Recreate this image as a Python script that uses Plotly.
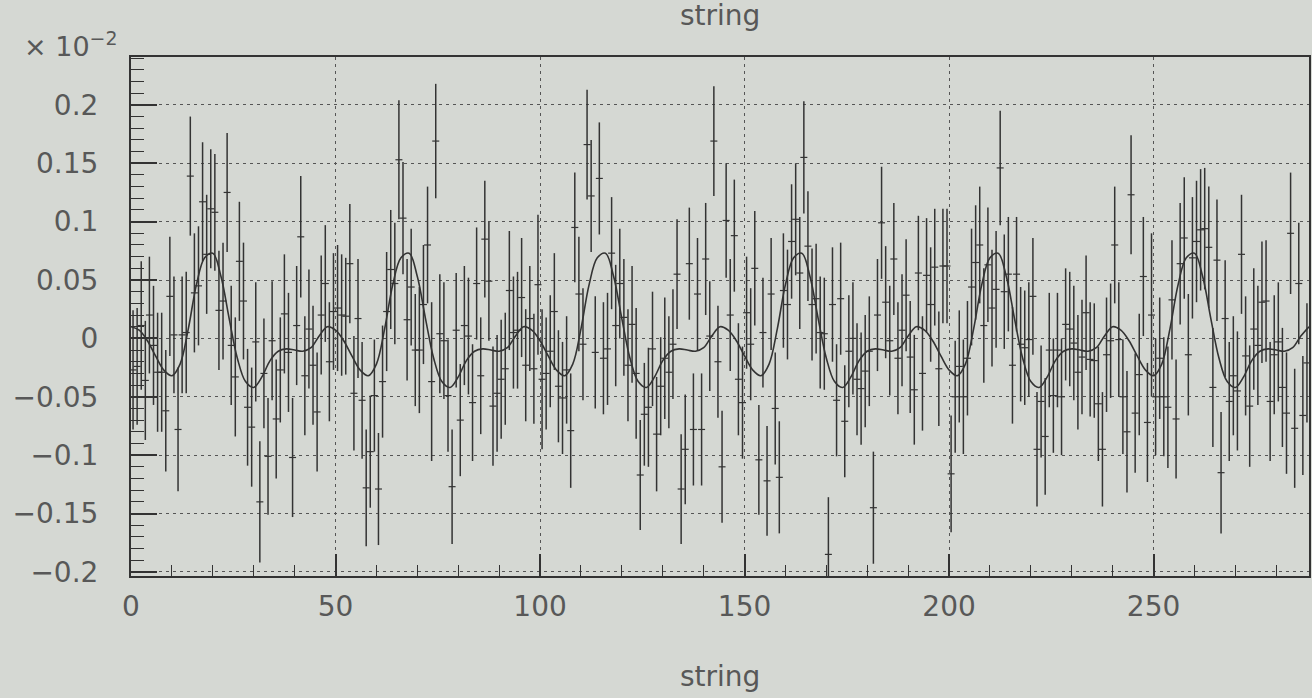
import plotly.graph_objects as go

# ---------------- data (units of 1e-2) ----------------
bin_index = list(range(288))

values = [
    # 0-48
    -0.027, -0.024, 0.011, -0.036, 0.020, -0.006, -0.029, -0.029, -0.062, 0.036,
    0.003, -0.078, 0.003, 0.005, 0.139, 0.039, 0.045, 0.117, 0.072, 0.111,
    0.108, 0.024, 0.032, 0.125, -0.006, -0.033, 0.066, 0.032, -0.059, -0.076,
    -0.003, -0.140, -0.030, -0.101, -0.002, -0.069, -0.027, 0.021, -0.012, -0.102,
    0.011, 0.087, -0.032, 0.008, -0.023, -0.063, 0.020, 0.047, -0.020,
    # 49-97
    0.023, 0.026, 0.020, 0.019, 0.064, -0.047, 0.017, -0.053, -0.128, -0.097,
    -0.049, -0.129, -0.037, 0.023, 0.059, 0.047, 0.153, 0.103, 0.016, 0.044,
    -0.010, -0.010, 0.029, 0.080, -0.037, 0.169, 0.004, -0.002, -0.049, -0.127,
    0.007, -0.070, 0.011, 0.002, -0.055, 0.047, -0.032, 0.085, 0.049, -0.058,
    -0.047, -0.035, -0.026, 0.041, 0.005, 0.007, 0.035, -0.023, 0.017,
    # 98-146
    -0.026, 0.046, -0.035, -0.030, -0.011, 0.023, -0.041, -0.051, -0.027, -0.079,
    0.095, 0.038, -0.005, 0.166, 0.122, -0.012, 0.137, -0.017, -0.009, 0.073,
    0.011, 0.047, 0.018, -0.023, 0.012, -0.030, -0.117, -0.065, -0.059, -0.009,
    -0.082, -0.041, -0.017, -0.029, -0.005, 0.055, -0.129, -0.095, 0.064, -0.078,
    0.038, -0.078, 0.068, 0.002, 0.169, -0.020, -0.110, 0.101, 0.020,
    # 147-195
    0.088, -0.035, -0.055, 0.022, -0.005, 0.060, -0.104, 0.005, -0.122, 0.038,
    -0.060, -0.119, 0.041, 0.029, 0.083, 0.102, 0.056, 0.155, 0.079, 0.029,
    0.034, 0.005, 0.004, -0.185, 0.029, -0.053, 0.034, -0.071, -0.011, 0.000,
    -0.035, -0.043, -0.028, -0.011, -0.145, 0.020, 0.099, 0.031, -0.002, 0.068,
    -0.017, 0.007, 0.037, -0.016, -0.044, 0.056, -0.030, 0.054, 0.029,
    # 196-244
    0.061, -0.026, 0.062, 0.062, -0.116, -0.050, -0.024, -0.050, -0.017, 0.044,
    0.065, 0.080, 0.011, 0.063, 0.026, 0.042, 0.146, 0.040, 0.055, -0.023,
    0.055, -0.005, -0.008, -0.001, 0.036, -0.095, -0.054, -0.084, -0.010, -0.049,
    -0.010, -0.050, 0.012, 0.008, -0.004, -0.029, -0.016, 0.022, -0.018, -0.019,
    -0.056, -0.095, -0.014, -0.002, 0.080, -0.001, -0.050, -0.080, 0.123,
    # 245-287
    -0.064, -0.031, 0.053, -0.072, 0.020, -0.050, -0.017, -0.050, -0.059, 0.033,
    -0.069, 0.064, 0.086, -0.014, 0.069, 0.083, 0.093, 0.094, 0.078, -0.042,
    0.067, -0.115, 0.017, -0.054, -0.032, -0.045, 0.072, -0.015, -0.058, 0.008,
    -0.006, 0.031, 0.032, -0.054, -0.014, -0.003, -0.042, -0.064, 0.090, -0.077,
    0.047, -0.066, -0.021,
]

errors = [
    0.051, 0.050, 0.055, 0.051, 0.050, 0.051, 0.051, 0.051, 0.052, 0.051,
    0.050, 0.053, 0.050, 0.052, 0.051, 0.051, 0.051, 0.051, 0.051, 0.051,
    0.050, 0.051, 0.050, 0.051, 0.051, 0.051, 0.051, 0.050, 0.050, 0.051,
    0.051, 0.052, 0.047, 0.050, 0.051, 0.051, 0.045, 0.051, 0.051, 0.051,
    0.051, 0.052, 0.051, 0.051, 0.051, 0.051, 0.051, 0.050, 0.051,
    0.050, 0.054, 0.052, 0.050, 0.051, 0.049, 0.051, 0.050, 0.050, 0.048,
    0.048, 0.048, 0.048, 0.051, 0.051, 0.052, 0.051, 0.048, 0.052, 0.050,
    0.048, 0.054, 0.051, 0.050, 0.068, 0.049, 0.051, 0.050, 0.048, 0.049,
    0.049, 0.048, 0.051, 0.050, 0.050, 0.048, 0.050, 0.050, 0.051, 0.051,
    0.050, 0.051, 0.048, 0.051, 0.048, 0.050, 0.051, 0.048, 0.045,
    0.047, 0.060, 0.060, 0.048, 0.048, 0.050, 0.048, 0.048, 0.046, 0.049,
    0.047, 0.049, 0.048, 0.047, 0.048, 0.048, 0.048, 0.048, 0.048, 0.048,
    0.052, 0.047, 0.050, 0.048, 0.050, 0.056, 0.047, 0.044, 0.051, 0.049,
    0.049, 0.042, 0.052, 0.048, 0.047, 0.047, 0.047, 0.047, 0.048, 0.048,
    0.048, 0.048, 0.048, 0.047, 0.047, 0.048, 0.048, 0.049, 0.048,
    0.048, 0.048, 0.048, 0.048, 0.048, 0.049, 0.047, 0.047, 0.047, 0.048,
    0.048, 0.048, 0.049, 0.047, 0.049, 0.048, 0.048, 0.048, 0.047, 0.048,
    0.047, 0.048, 0.048, 0.049, 0.049, 0.048, 0.048, 0.048, 0.048, 0.048,
    0.048, 0.048, 0.048, 0.047, 0.048, 0.048, 0.048, 0.048, 0.047, 0.048,
    0.048, 0.048, 0.048, 0.048, 0.047, 0.049, 0.049, 0.049, 0.049,
    0.050, 0.049, 0.049, 0.049, 0.050, 0.048, 0.048, 0.049, 0.049, 0.050,
    0.049, 0.050, 0.049, 0.049, 0.050, 0.050, 0.049, 0.049, 0.049, 0.050,
    0.049, 0.049, 0.049, 0.049, 0.050, 0.049, 0.048, 0.050, 0.049, 0.049,
    0.049, 0.050, 0.048, 0.049, 0.049, 0.049, 0.049, 0.049, 0.049, 0.049,
    0.049, 0.049, 0.049, 0.049, 0.050, 0.049, 0.049, 0.052, 0.051,
    0.051, 0.052, 0.051, 0.051, 0.070, 0.050, 0.052, 0.051, 0.052, 0.051,
    0.051, 0.052, 0.052, 0.052, 0.052, 0.052, 0.052, 0.052, 0.052, 0.051,
    0.052, 0.052, 0.050, 0.051, 0.051, 0.051, 0.051, 0.051, 0.052, 0.052,
    0.051, 0.052, 0.052, 0.051, 0.051, 0.051, 0.051, 0.052, 0.052, 0.051,
    0.052, 0.051, 0.051,
]

curve_x = list(range(0, 289, 2))
curve_y = [
    0.010, 0.007, -0.002, -0.015, -0.027, -0.032, -0.022, 0.008, 0.046, 0.069, 0.073, 0.053,
    0.017, -0.017, -0.037, -0.042, -0.033, -0.019, -0.011, -0.009, -0.010, -0.011, -0.008, 0.002,
    0.010, 0.007, -0.002, -0.015, -0.027, -0.032, -0.022, 0.008, 0.046, 0.069, 0.073, 0.053,
    0.017, -0.017, -0.037, -0.042, -0.033, -0.019, -0.011, -0.009, -0.010, -0.011, -0.008, 0.002,
    0.010, 0.007, -0.002, -0.015, -0.027, -0.032, -0.022, 0.008, 0.046, 0.069, 0.073, 0.053,
    0.017, -0.017, -0.037, -0.042, -0.033, -0.019, -0.011, -0.009, -0.010, -0.011, -0.008, 0.002,
    0.010, 0.007, -0.002, -0.015, -0.027, -0.032, -0.022, 0.008, 0.046, 0.069, 0.073, 0.053,
    0.017, -0.017, -0.037, -0.042, -0.033, -0.019, -0.011, -0.009, -0.010, -0.011, -0.008, 0.002,
    0.010, 0.007, -0.002, -0.015, -0.027, -0.032, -0.022, 0.008, 0.046, 0.069, 0.073, 0.053,
    0.017, -0.017, -0.037, -0.042, -0.033, -0.019, -0.011, -0.009, -0.010, -0.011, -0.008, 0.002,
    0.010, 0.007, -0.002, -0.015, -0.027, -0.032, -0.022, 0.008, 0.046, 0.069, 0.073, 0.053,
    0.017, -0.017, -0.037, -0.042, -0.033, -0.019, -0.011, -0.009, -0.010, -0.011, -0.008, 0.002,
    0.010,
]

x_tick_vals = [0, 50, 100, 150, 200, 250]
x_tick_text = ["0", "50", "100", "150", "200", "250"]
y_tick_vals = [0.2, 0.15, 0.1, 0.05, 0, -0.05, -0.1, -0.15, -0.2]
y_tick_text = ["0.2", "0.15", "0.1", "0.05", "0", "\u22120.05", "\u22120.1", "\u22120.15", "\u22120.2"]

title_text = "string"
x_title_text = "string"
exponent_text = "\u00d7 10<sup>\u22122</sup>"

# ---------------- figure ----------------
BG = "#d5d8d3"
INK = "#333333"
TXT = "#585858"
FONT = "DejaVu Sans"

bin_centers = [i + 0.5 for i in bin_index]

fig = go.Figure()
fig.add_trace(go.Scatter(
    x=bin_centers, y=values, mode="markers",
    marker=dict(symbol="line-ew", size=5, color=INK, line=dict(color=INK, width=1.2)),
    error_y=dict(type="data", array=errors, visible=True, color=INK, thickness=1.5, width=0),
    showlegend=False, hoverinfo="x+y",
))
fig.add_trace(go.Scatter(
    x=curve_x, y=curve_y, mode="lines",
    line=dict(color=INK, width=1.6, shape="spline", smoothing=1.0),
    showlegend=False,
))

L, R, T, B = 131, 1, 57, 122
W, H = 1312, 698
pw, ph = W - L - R, H - T - B

def px_x(p):
    return (p - L) / pw

def px_y(p):
    return (H - B - p) / ph

fig.update_layout(
    width=W, height=H,
    margin=dict(l=L, r=R, t=T, b=B, pad=0),
    paper_bgcolor=BG, plot_bgcolor=BG,
    font=dict(family=FONT, color=TXT, size=28),
    xaxis=dict(
        range=[0, 288], showline=True, linecolor=INK, linewidth=2, mirror=True,
        ticks="inside", ticklen=22, tickwidth=1.5, tickcolor=INK,
        tickvals=x_tick_vals, ticktext=x_tick_text,
        tickfont=dict(size=28, color=TXT, family=FONT),
        ticklabelstandoff=4,
        showgrid=True, gridcolor="#555555", gridwidth=1.3, griddash="3px,4px",
        minor=dict(dtick=10, tick0=0, ticks="inside", ticklen=11, tickwidth=1.3,
                   tickcolor=INK, showgrid=False),
        zeroline=False,
    ),
    yaxis=dict(
        range=[-0.2035, 0.241], showline=True, linecolor=INK, linewidth=2, mirror=True,
        ticks="inside", ticklen=26, tickwidth=1.5, tickcolor=INK,
        tickvals=y_tick_vals, ticktext=y_tick_text,
        tickfont=dict(size=28, color=TXT, family=FONT),
        ticklabelstandoff=25,
        showgrid=True, gridcolor="#555555", gridwidth=1.3, griddash="3px,4px",
        minor=dict(dtick=0.01, tick0=0, ticks="inside", ticklen=13, tickwidth=1.3,
                   tickcolor=INK, showgrid=False),
        zeroline=False,
    ),
    annotations=[
        dict(text=title_text, xref="paper", yref="paper", x=0.5, y=px_y(16),
             xanchor="center", yanchor="middle", showarrow=False,
             font=dict(size=28, color=TXT, family=FONT)),
        dict(text=x_title_text, xref="paper", yref="paper", x=0.5, y=px_y(676),
             xanchor="center", yanchor="middle", showarrow=False,
             font=dict(size=28, color=TXT, family=FONT)),
        dict(text=exponent_text, xref="paper", yref="paper", x=px_x(22), y=px_y(44),
             xanchor="left", yanchor="middle", showarrow=False,
             font=dict(size=27, color=TXT, family=FONT)),
    ],
)

fig.write_html("out.html")
